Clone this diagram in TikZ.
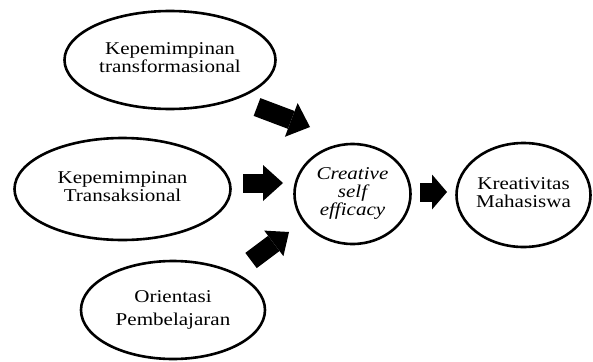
\documentclass[tikz,border=0pt]{standalone}
\usepackage{fontspec}
\usepackage{graphicx}
\setmainfont{Liberation Serif}
\usetikzlibrary{shapes.geometric,arrows.meta}
\newcommand{\stretchtxt}[1]{\scalebox{1.17}[1]{#1}}
\begin{document}
\begin{tikzpicture}[x=1pt,y=-1pt,
  oval/.style={ellipse, draw, line width=2.6pt, inner sep=0pt},
  txt/.style={font=\fontsize{18}{18}\selectfont},
  fat/.style={line width=19pt, -{Triangle[length=20pt,width=36pt,line width=0pt]}}]
\useasboundingbox (0,0) rectangle (593,361);
\node[oval, txt, minimum width=211pt, minimum height=98pt] (trans) at (170,60)
  {\stretchtxt{\begin{tabular}{@{}c@{}}Kepemimpinan\\transformasional\end{tabular}}};
\node[oval, txt, minimum width=216pt, minimum height=102pt] (transak) at (122.5,189)
  {\stretchtxt{\begin{tabular}{@{}c@{}}Kepemimpinan\\Transaksional\end{tabular}}};
\node[oval, txt, minimum width=184pt, minimum height=98pt] (orient) at (173,310)
  {\stretchtxt{\begin{tabular}{@{}c@{}}Orientasi\\[5pt]Pembelajaran\end{tabular}}};
\node[oval, txt, minimum width=116pt, minimum height=100pt] (cse) at (352.5,194)
  {\stretchtxt{\itshape\begin{tabular}{@{}c@{}}Creative\\self\\efficacy\end{tabular}}};
\node[oval, txt, minimum width=134pt, minimum height=104pt] (krea) at (523.5,195)
  {\stretchtxt{\begin{tabular}{@{}c@{}}Kreativitas\\Mahasiswa\end{tabular}}};
\coordinate (a1s) at (257,107);
\coordinate (a1e) at (310,127);
\coordinate (a2s) at (243,183);
\coordinate (a2e) at (283,183);
\coordinate (a3s) at (251,260.5);
\coordinate (a3e) at (289,232);
\coordinate (a4s) at (420,192);
\coordinate (a4e) at (447,192);
\draw[fat] (a1s) -- (a1e);
\draw[fat] (a2s) -- (a2e);
\draw[fat, -{Triangle[length=19pt,width=32pt,line width=0pt]}] (a3s) -- (a3e);
\draw[fat, -{Triangle[length=15pt,width=35pt,line width=0pt]}] (a4s) -- (a4e);
\end{tikzpicture}
\end{document}
